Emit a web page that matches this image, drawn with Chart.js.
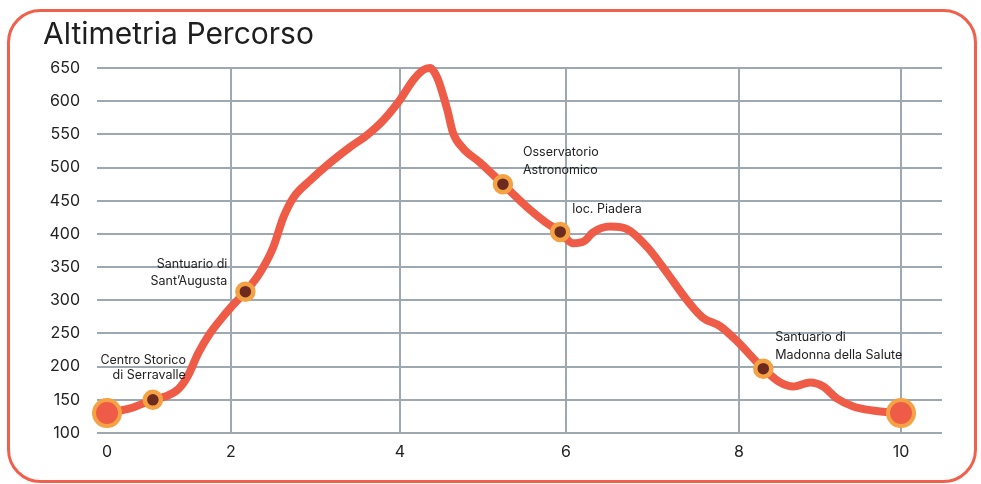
<!DOCTYPE html>
<html lang="it">
<head>
<meta charset="utf-8">
<title>Altimetria Percorso</title>
<script src="https://cdn.jsdelivr.net/npm/chart.js@4/dist/chart.umd.min.js"></script>
<style>
  html, body { margin: 0; padding: 0; background: #ffffff; }
  #wrap { width: 981px; height: 484px; }
</style>
</head>
<body>
<div id="wrap"><canvas id="chart" width="981" height="484"></canvas></div>
<script>
// Elevation profile: distance along the route (km) and altitude (m)
const profileKm = [
  0, 0.37, 0.74, 0.94, 1.15, 1.31, 1.47, 1.66, 1.85, 2.01,
  2.17, 2.34, 2.50, 2.62, 2.74, 2.94, 3.17, 3.41, 3.61, 3.80,
  4.00, 4.16, 4.28, 4.36, 4.45, 4.52, 4.57, 4.64, 4.76, 4.96,
  5.24, 5.57, 5.75, 5.93, 6.08, 6.22, 6.31, 6.51, 6.71, 6.94,
  7.17, 7.40, 7.58, 7.78, 7.98, 8.30, 8.51, 8.67, 8.88, 9.04,
  9.21, 9.41, 9.65, 10
];
const profileElev = [
  130, 137, 150, 155, 166, 187, 220, 250, 273, 291,
  313, 341, 380, 425, 455, 481, 507, 531, 549, 571,
  602, 632, 647, 650, 635, 609, 587, 552, 529, 508,
  475, 436, 418, 403, 386, 390, 402, 411, 407, 380,
  341, 300, 274, 261, 238, 197, 176, 170, 176, 170,
  152, 140, 134, 130
];

// Points of interest along the way
const poiNames = [
  ['Centro Storico', 'di Serravalle'],
  ['Santuario di', 'Sant\u2019Augusta'],
  ['Osservatorio', 'Astronomico'],
  ['loc. Piadera'],
  ['Santuario di', 'Madonna della Salute']
];
const poiKm = [0.74, 2.17, 5.24, 5.93, 8.30];
const poiElev = [150, 313, 475, 403, 197];

// Start and finish of the loop
const endKm = [0, 10];
const endElev = [130, 130];

// Axis ticks
const xTicks = [0, 2, 4, 6, 8, 10];
const yTicks = [100, 150, 200, 250, 300, 350, 400, 450, 500, 550, 600, 650];

// ---- styling ----
const FONT = 'Inter, "Liberation Sans", Arial, sans-serif';
const LINE_RED = '#ee5c47';
const RING = '#f4a244';
const DOT = '#6d2a1e';
const GRID = '#9ea8b1';
const TEXT = '#222222';
const FRAME = '#f0604c';

// The printed distance axis is not uniform (the first two kilometres are
// squeezed), so every labelled kilometre has its own stop along the axis.
const KM_STOPS = [0, 2, 4, 6, 8, 10];
const AXIS_STOPS = [10, 134, 303, 469, 642, 804];
const AXIS_SPAN = 845;

function segIndex(arr, v) {
  const n = arr.length;
  if (v <= arr[0]) return 0;
  if (v >= arr[n - 1]) return n - 2;
  let i = 0;
  while (v > arr[i + 1]) i++;
  return i;
}
function kmToAxis(km) {
  const i = segIndex(KM_STOPS, km);
  return AXIS_STOPS[i] + (km - KM_STOPS[i]) * (AXIS_STOPS[i + 1] - AXIS_STOPS[i]) / (KM_STOPS[i + 1] - KM_STOPS[i]);
}
function axisToKm(a) {
  const i = segIndex(AXIS_STOPS, a);
  return KM_STOPS[i] + (a - AXIS_STOPS[i]) * (KM_STOPS[i + 1] - KM_STOPS[i]) / (AXIS_STOPS[i + 1] - AXIS_STOPS[i]);
}

class RouteScale extends Chart.LinearScale {
  static id = 'route';
  static defaults = Chart.LinearScale.defaults;
  getPixelForValue(value) {
    if (value === null || value === undefined || isNaN(value)) return NaN;
    return this.getPixelForDecimal(kmToAxis(value) / AXIS_SPAN);
  }
  getValueForPixel(pixel) {
    return axisToKm(this.getDecimalForPixel(pixel) * AXIS_SPAN);
  }
}
Chart.register(RouteScale);

// Where each place name sits relative to its marker
const labelPlacement = [
  { align: 'right', dx: 33, dy: -40, gap: 15 },
  { align: 'right', dx: -18, dy: -27, gap: 17 },
  { align: 'left', dx: 20, dy: -32, gap: 18 },
  { align: 'left', dx: 12, dy: -23, gap: 18 },
  { align: 'left', dx: 12, dy: -31, gap: 18 }
];

const framePlugin = {
  id: 'frame',
  beforeDraw(chart) {
    const ctx = chart.ctx;
    ctx.save();
    ctx.fillStyle = '#ffffff';
    ctx.fillRect(0, 0, chart.width, chart.height);
    ctx.beginPath();
    ctx.roundRect(8.5, 10.5, 967, 471, 32);
    ctx.lineWidth = 3;
    ctx.strokeStyle = FRAME;
    ctx.stroke();
    ctx.restore();
  }
};

const placeLabels = {
  id: 'placeLabels',
  afterDatasetsDraw(chart) {
    const ctx = chart.ctx;
    const xs = chart.scales.x, ys = chart.scales.y;
    ctx.save();
    ctx.font = '12.5px ' + FONT;
    ctx.fillStyle = TEXT;
    ctx.textBaseline = 'middle';
    poiNames.forEach((lines, i) => {
      const p = labelPlacement[i];
      const px = xs.getPixelForValue(poiKm[i]);
      const py = ys.getPixelForValue(poiElev[i]);
      ctx.textAlign = p.align;
      lines.forEach((t, j) => ctx.fillText(t, px + p.dx, py + p.dy + j * p.gap));
    });
    ctx.restore();
  }
};

new Chart(document.getElementById('chart'), {
  type: 'line',
  data: {
    datasets: [
      {
        label: 'Punti di interesse',
        type: 'scatter',
        data: poiKm.map((x, i) => ({ x, y: poiElev[i] })),
        pointRadius: 8,
        pointBorderWidth: 4.5,
        pointBackgroundColor: DOT,
        pointBorderColor: RING,
        showLine: false,
        order: 0,
        clip: false
      },
      {
        label: 'Partenza / Arrivo',
        type: 'scatter',
        data: endKm.map((x, i) => ({ x, y: endElev[i] })),
        pointRadius: 13,
        pointBorderWidth: 4,
        pointBackgroundColor: LINE_RED,
        pointBorderColor: RING,
        showLine: false,
        order: 1,
        clip: false
      },
      {
        label: 'Altimetria',
        data: profileKm.map((x, i) => ({ x, y: profileElev[i] })),
        borderColor: LINE_RED,
        borderWidth: 8,
        borderCapStyle: 'round',
        borderJoinStyle: 'round',
        cubicInterpolationMode: 'monotone',
        pointRadius: 0,
        fill: false,
        order: 2,
        clip: false
      }
    ]
  },
  options: {
    responsive: false,
    animation: false,
    devicePixelRatio: 1,
    layout: { padding: { left: 43, top: 10, right: 39, bottom: 0 } },
    plugins: {
      legend: { display: false },
      tooltip: { enabled: false },
      title: {
        display: true,
        text: 'Altimetria Percorso',
        align: 'start',
        color: '#1e1e1e',
        font: { family: FONT, size: 30, weight: 'normal' },
        padding: { top: 7, bottom: 15 }
      }
    },
    scales: {
      x: {
        type: 'route',
        min: axisToKm(0),
        max: axisToKm(AXIS_SPAN),
        afterBuildTicks(scale) { scale.ticks = xTicks.map(v => ({ value: v })); },
        afterFit(scale) { scale.height = 51; },
        border: { display: false },
        grid: {
          color: c => (c.tick && c.tick.value === 0 ? 'rgba(0,0,0,0)' : GRID),
          lineWidth: 2,
          drawTicks: false
        },
        ticks: {
          autoSkip: false,
          maxRotation: 0,
          padding: 10,
          color: TEXT,
          font: { family: FONT, size: 16 }
        }
      },
      y: {
        min: 100,
        max: 650,
        afterBuildTicks(scale) { scale.ticks = yTicks.map(v => ({ value: v })); },
        afterFit(scale) { scale.width = 54; },
        border: { display: false },
        grid: { color: GRID, lineWidth: 2, drawTicks: false },
        ticks: {
          padding: 17,
          color: TEXT,
          font: { family: FONT, size: 16 }
        }
      }
    }
  },
  plugins: [framePlugin, placeLabels]
});
</script>
</body>
</html>
